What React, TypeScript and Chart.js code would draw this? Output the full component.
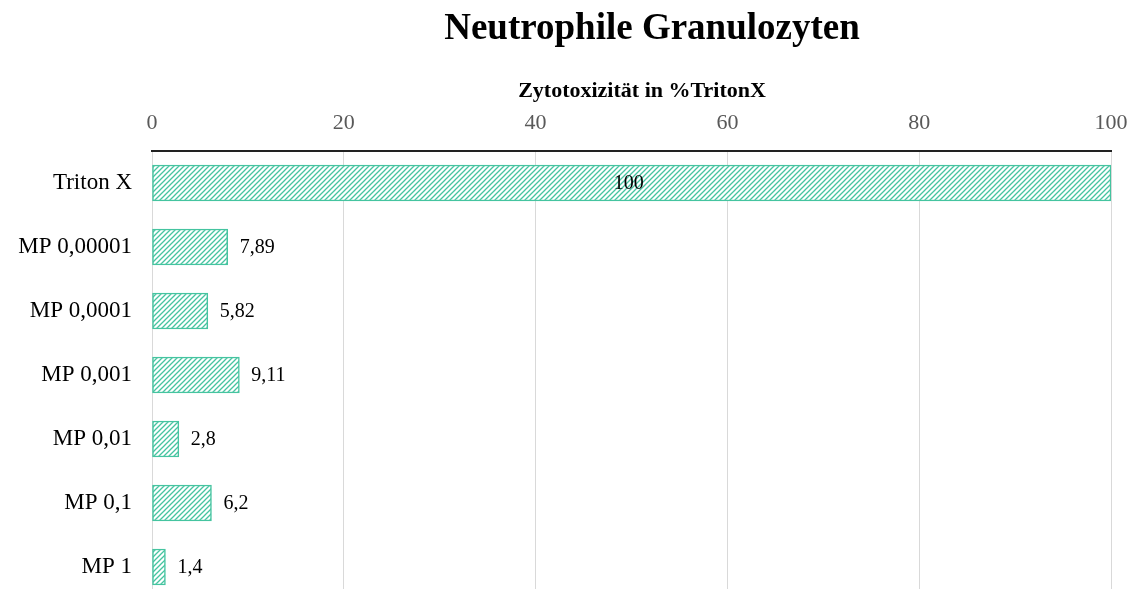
import React, { useEffect, useRef } from 'react';
import { Chart, registerables } from 'chart.js';

Chart.register(...registerables);

const categories = ['Triton X', 'MP 0,00001', 'MP 0,0001', 'MP 0,001', 'MP 0,01', 'MP 0,1', 'MP 1'];
const values = [100, 7.89, 5.82, 9.11, 2.8, 6.2, 1.4];
const xMin = 0;
const xMax = 100;
const xStep = 20;
const chartTitle = 'Neutrophile Granulozyten';
const axisTitle = 'Zytotoxizität in %TritonX';

const TEAL = '#45c4a0';
const SERIF = "'Liberation Serif', 'Times New Roman', serif";

function makePattern(ctx: CanvasRenderingContext2D) {
  const size = 5;
  const c = document.createElement('canvas');
  c.width = size;
  c.height = size;
  const p = c.getContext('2d')!;
  p.fillStyle = '#ffffff';
  p.fillRect(0, 0, size, size);
  p.strokeStyle = TEAL;
  p.lineWidth = 1.3;
  p.beginPath();
  p.moveTo(0, size);
  p.lineTo(size, 0);
  p.moveTo(-1, 1);
  p.lineTo(1, -1);
  p.moveTo(size - 1, size + 1);
  p.lineTo(size + 1, size - 1);
  p.stroke();
  return ctx.createPattern(c, 'repeat');
}

const fmt = (v: number) => String(v).replace('.', ',');

const textPlugin = {
  id: 'textPlugin',
  afterDatasetsDraw(chart: any) {
    const ctx = chart.ctx;
    const meta = chart.getDatasetMeta(0);
    ctx.save();
    ctx.font = `20px ${SERIF}`;
    ctx.fillStyle = '#000';
    ctx.textBaseline = 'middle';
    meta.data.forEach((bar: any, i: number) => {
      const v = values[i];
      if (v >= 50) {
        ctx.textAlign = 'center';
        ctx.fillText(fmt(v), (bar.x + bar.base) / 2 - 3, bar.y + 1);
      } else {
        ctx.textAlign = 'left';
        ctx.fillText(fmt(v), bar.x + 12, bar.y + 1);
      }
    });
    ctx.restore();
  },
  afterDraw(chart: any) {
    const ctx = chart.ctx;
    ctx.save();
    ctx.fillStyle = '#000';
    ctx.textAlign = 'center';
    ctx.textBaseline = 'alphabetic';
    ctx.font = `bold 37px ${SERIF}`;
    ctx.fillText(chartTitle, 652, 39);
    ctx.font = `bold 22px ${SERIF}`;
    ctx.fillText(axisTitle, 642, 97);
    ctx.restore();
  },
};

export default function App() {
  const ref = useRef<HTMLCanvasElement>(null);
  useEffect(() => {
    const canvas = ref.current!;
    const ctx = canvas.getContext('2d')!;
    const pattern = makePattern(ctx);
    const chart = new Chart(canvas, {
      type: 'bar',
      data: {
        labels: categories,
        datasets: [
          {
            data: values,
            backgroundColor: pattern as any,
            borderColor: TEAL,
            borderWidth: 1.5,
            borderSkipped: false,
            barThickness: 36,
          },
        ],
      },
      options: {
        indexAxis: 'y',
        animation: false,
        responsive: false,
        devicePixelRatio: 1,
        layout: { padding: { top: 0, right: 26, bottom: 1, left: 0 } },
        plugins: {
          legend: { display: false },
          title: { display: false },
          tooltip: { enabled: false },
        },
        scales: {
          x: {
            position: 'top',
            min: xMin,
            max: xMax,
            afterFit: (s: any) => {
              s.height = 151;
              s.paddingLeft = 0;
              s.paddingRight = 0;
            },
            ticks: {
              stepSize: xStep,
              padding: 15,
              color: '#595959',
              font: { family: SERIF, size: 22 },
            },
            grid: {
              color: '#d9d9d9',
              lineWidth: 1,
              drawTicks: false,
              tickLength: 0,
            },
            border: { display: true, color: '#222222', width: 2 },
          },
          y: {
            afterFit: (s: any) => {
              s.width = 152;
              s.paddingTop = 0;
              s.paddingBottom = 0;
            },
            ticks: {
              padding: 20,
              color: '#000000',
              font: { family: SERIF, size: 23 },
            },
            grid: { display: false, drawTicks: false, tickLength: 0 },
            border: { display: false },
          },
        },
      },
      plugins: [textPlugin],
    });
    return () => chart.destroy();
  }, []);

  return (
    <div style={{ position: 'absolute', left: 0, top: 0, width: 1137, height: 589, overflow: 'hidden', background: '#fff' }}>
      <canvas ref={ref} width={1137} height={600} style={{ display: 'block', width: 1137, height: 600 }} />
    </div>
  );
}
